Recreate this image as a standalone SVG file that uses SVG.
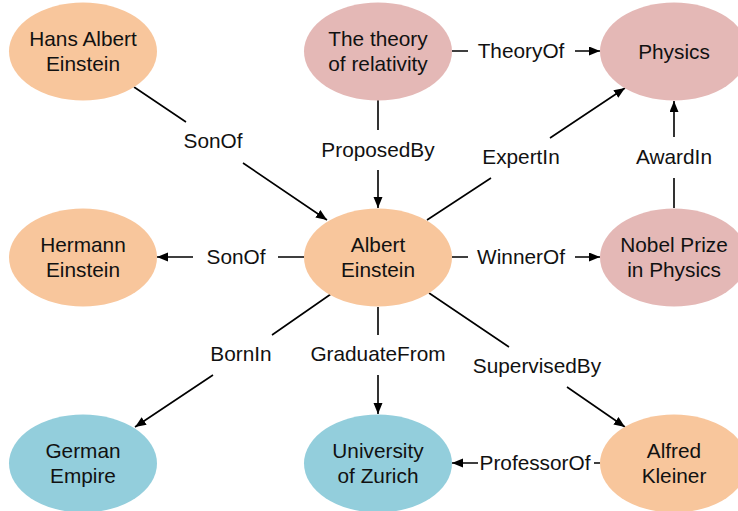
<svg xmlns="http://www.w3.org/2000/svg" width="738" height="511" viewBox="0 0 738 511">
<style>
text{font-family:"Liberation Sans",Arial,sans-serif;font-size:20.8px;fill:#111;text-anchor:middle}
.o{fill:#F8C69C}.p{fill:#E4B8B6}.b{fill:#93CEDC}
.c path{fill:none;stroke:#000;stroke-width:1.6;marker-end:url(#ah)}
</style>
<defs>
<marker id="ah" markerUnits="userSpaceOnUse" markerWidth="12" markerHeight="10" refX="11" refY="4.5" orient="auto">
<path d="M0,0 L11,4.5 L0,9 z" fill="#000"/>
</marker>
</defs>
<rect width="738" height="511" fill="#fff"/>
<g class="c" id="connectors">
<path d="M134,87 L186,122 M243,163 L327,220"/>
<path d="M378,100 L378,130 M378,170 L378,208"/>
<path d="M452,51 L468,51 M575,51 L600,51"/>
<path d="M427,220 L491,178 M550,138 L625,88"/>
<path d="M674,208 L674,178 M674,137 L674,101"/>
<path d="M305,257 L278,257 M193,257 L157,257"/>
<path d="M452,257 L468,257 M575,257 L600,257"/>
<path d="M331,294 L272,335 M213,375 L135,427"/>
<path d="M378,307 L378,335 M378,375 L378,414"/>
<path d="M429,293 L509,347 M567,387 L625,427"/>
<path d="M600,463 L594,463 M478,463 L452,463"/>
</g>
<g id="labels">
<text x="213" y="148">SonOf</text>
<text x="378" y="157">ProposedBy</text>
<text x="521" y="58">TheoryOf</text>
<text x="521" y="164">ExpertIn</text>
<text x="674" y="164">AwardIn</text>
<text x="236" y="264">SonOf</text>
<text x="521" y="264">WinnerOf</text>
<text x="241" y="361">BornIn</text>
<text x="378" y="361">GraduateFrom</text>
<text x="537" y="373">SupervisedBy</text>
<text x="535" y="470">ProfessorOf</text>
</g>
<g id="hans"><ellipse class="o" cx="83" cy="51.5" rx="74" ry="49"/><text x="83" y="46">Hans Albert</text><text x="83" y="71">Einstein</text></g>
<g id="theory"><ellipse class="p" cx="378" cy="51.5" rx="74" ry="49"/><text x="378" y="46">The theory</text><text x="378" y="71">of relativity</text></g>
<g id="physics"><ellipse class="p" cx="674" cy="51.5" rx="74" ry="49"/><text x="674" y="58.5">Physics</text></g>
<g id="hermann"><ellipse class="o" cx="83" cy="257.5" rx="74" ry="49"/><text x="83" y="252">Hermann</text><text x="83" y="277">Einstein</text></g>
<g id="albert"><ellipse class="o" cx="378" cy="257.5" rx="74" ry="49"/><text x="378" y="252">Albert</text><text x="378" y="277">Einstein</text></g>
<g id="nobel"><ellipse class="p" cx="674" cy="257.5" rx="74" ry="49"/><text x="674" y="252">Nobel Prize</text><text x="674" y="277">in Physics</text></g>
<g id="german"><ellipse class="b" cx="83" cy="463.5" rx="74" ry="49"/><text x="83" y="458">German</text><text x="83" y="483">Empire</text></g>
<g id="zurich"><ellipse class="b" cx="378" cy="463.5" rx="74" ry="49"/><text x="378" y="458">University</text><text x="378" y="483">of Zurich</text></g>
<g id="alfred"><ellipse class="o" cx="674" cy="463.5" rx="74" ry="49"/><text x="674" y="458">Alfred</text><text x="674" y="483">Kleiner</text></g>
</svg>
